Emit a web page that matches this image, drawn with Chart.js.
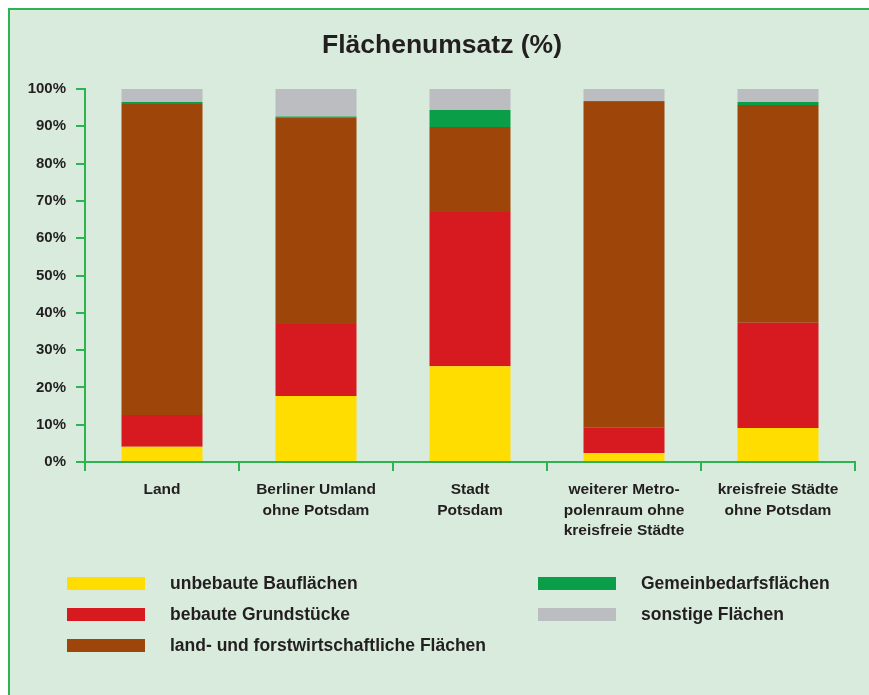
<!DOCTYPE html>
<html>
<head>
<meta charset="utf-8">
<script src="https://cdn.jsdelivr.net/npm/chart.js@4"></script>
<style>
body{
margin:0;
background:#ffffff;
font-family:"Liberation Sans",Arial,sans-serif;
}
#box{
position:absolute;
left:8px;
top:8px;
width:870px;
height:700px;
background:#d9ebdc;
border-top:2px solid #2db34f;
border-left:2px solid #2db34f;
}
#chartCanvas{
position:absolute;
left:0;
top:0;
}
#title{
position:absolute;
left:242px;
width:400px;
top:29px;
text-align:center;
font-weight:bold;
font-size:26.5px;
color:#231f20;
white-space:nowrap;
}
.legendItem{
position:absolute;
height:13px;
}
.swatch{
position:absolute;
width:78px;
height:13px;
}
.legendText{
position:absolute;
top:-4px;
font-weight:bold;
font-size:17.5px;
color:#231f20;
white-space:nowrap;
}
</style>
</head>
<body>

<div id="box"></div>
<canvas id="chartCanvas" width="869" height="695"></canvas>
<div id="title">Flächenumsatz (%)</div>
<div id="legend"></div>

<script>

const categories = [
["Land"],
["Berliner Umland","ohne Potsdam"],
["Stadt","Potsdam"],
["weiterer Metro-","polenraum ohne","kreisfreie Städte"],
["kreisfreie Städte","ohne Potsdam"]
];

const seriesNames = [
"unbebaute Bauflächen",
"bebaute Grundstücke",
"land- und forstwirtschaftliche Flächen",
"Gemeinbedarfsflächen",
"sonstige Flächen"
];

const unbebaut = [4.1, 17.7, 25.7, 2.4, 9.1];
const bebaut = [8.5, 19.3, 41.3, 6.8, 28.2];
const landForst = [83.4, 55.3, 22.8, 87.3, 58.4];
const gemeinbedarf = [0.5, 0.3, 4.6, 0.3, 0.8];
const sonstige = [3.5, 7.4, 5.6, 3.2, 3.5];

const colors = ["#ffdd00","#d71920","#9e4509","#0a9e48","#bbbdc0"];

const green = "#2db34f";
const textColor = "#231f20";

const seriesValues = [unbebaut, bebaut, landForst, gemeinbedarf, sonstige];

const datasets = seriesValues.map((vals,i)=>({
label:seriesNames[i],
data:vals,
backgroundColor:colors[i],
borderWidth:0,
barPercentage:0.526,
categoryPercentage:1
}));

const ctx = document.getElementById("chartCanvas");

const chart = new Chart(ctx,{
type:"bar",
data:{
labels:categories,
datasets:datasets
},
options:{
responsive:false,
animation:false,
layout:{
padding:{left:10,right:14,top:89,bottom:0}
},
plugins:{
legend:{display:false},
tooltip:{enabled:false},
title:{display:false}
},
scales:{
x:{
stacked:true,
grid:{
offset:true,
drawOnChartArea:false,
tickLength:9,
color:green,
lineWidth:2
},
border:{color:green,width:2},
ticks:{
color:textColor,
padding:9,
maxRotation:0,
autoSkip:false,
font:{family:"Liberation Sans",size:15.5,weight:"bold",lineHeight:1.3}
},
afterFit(scale){
scale.height = 233;
}
},
y:{
stacked:true,
min:0,
max:100,
grid:{
drawOnChartArea:false,
tickLength:9,
color:green,
lineWidth:2
},
border:{color:green,width:2},
ticks:{
stepSize:10,
color:textColor,
padding:10,
font:{family:"Liberation Sans",size:15,weight:"bold"},
callback:v=>v+"%"
},
afterFit(scale){
scale.width = 75;
}
}
}
}
});

// legend in two columns like the original
const legendPos = [
{x:67,y:577},
{x:67,y:608},
{x:67,y:639},
{x:538,y:577},
{x:538,y:608}
];

const legend = document.getElementById("legend");

seriesNames.forEach((name,i)=>{
const item = document.createElement("div");
item.className = "legendItem";
item.style.left = legendPos[i].x+"px";
item.style.top = legendPos[i].y+"px";
item.innerHTML =
'<div class="swatch" style="background:'+colors[i]+'"></div>'+
'<div class="legendText" style="left:103px">'+name+'</div>';
legend.appendChild(item);
});

</script>
</body>
</html>
